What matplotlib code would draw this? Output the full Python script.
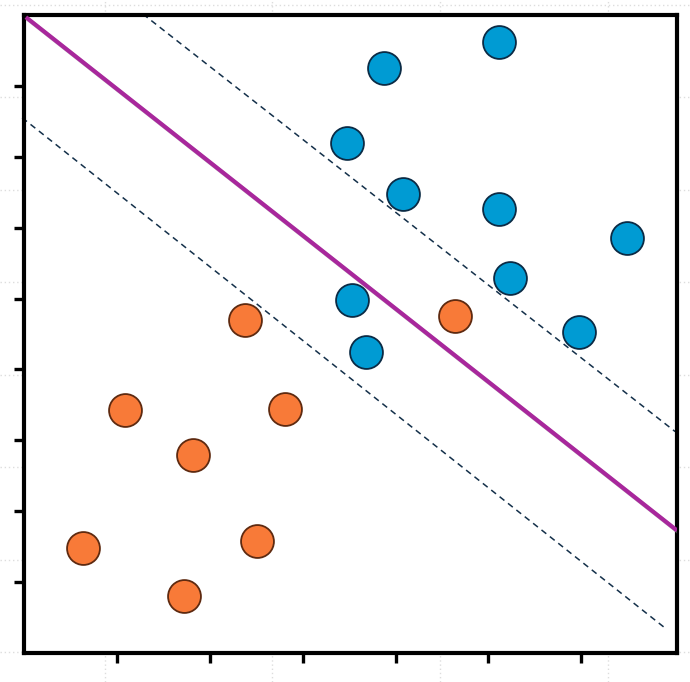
import numpy as np
import matplotlib
matplotlib.use("Agg")
import matplotlib.pyplot as plt
import matplotlib.patheffects as pe
from matplotlib.lines import Line2D

# class A (blue)
blue_x = [5.11, 3.875, 3.48, 4.08, 5.11, 6.49, 5.23, 3.53, 5.98, 3.68]
blue_y = [8.62, 8.25, 7.19, 6.47, 6.26, 5.85, 5.29, 4.98, 4.53, 4.25]

# class B (orange)
orange_x = [2.38, 4.64, 1.09, 2.81, 1.82, 0.635, 2.51, 1.72]
orange_y = [4.70, 4.75, 3.43, 3.44, 2.79, 1.48, 1.58, 0.80]

# separating line and margins: (slope, intercept, x start, x end)
hyperplane = (-1.033, 8.99, 0.02, 7.03)
margin_up = (-1.028, 10.33, 1.28, 7.01)
margin_low = (-1.040, 7.53, -0.02, 6.90)

x_ticks = [1, 2, 3, 4, 5, 6]
y_ticks = [1, 2, 3, 4, 5, 6, 7, 8]

fig = plt.figure(figsize=(6.9, 6.82), dpi=100)

# faint dotted guide lines of the slide behind the plot
for gx in [105, 272, 440, 608]:
    fig.add_artist(Line2D([gx / 690, gx / 690], [0, 1], color="#dddddd",
                          lw=1, ls=(0, (1, 2)), zorder=0))
for gy in [5, 97, 190, 282, 375, 467, 560, 652]:
    fig.add_artist(Line2D([0, 1], [1 - gy / 682, 1 - gy / 682], color="#dddddd",
                          lw=1, ls=(0, (1, 2)), zorder=0))

ax = fig.add_axes([24 / 690, 1 - 653 / 682, 653 / 690, 638 / 682])
ax.set_facecolor("white")
ax.set_zorder(1)

def seg(p):
    m, b, x0, x1 = p
    xs = np.array([x0, x1])
    return xs, m * xs + b

xs, ys = seg(margin_up)
ax.plot(xs, ys, color="#14304a", lw=1.1, ls=(0, (4, 3)), zorder=2, clip_on=False)
xs, ys = seg(margin_low)
ax.plot(xs, ys, color="#14304a", lw=1.1, ls=(0, (4, 3)), zorder=2, clip_on=False)
xs, ys = seg(hyperplane)
ax.plot(xs, ys, color="#a8279c", lw=3.0, zorder=3, solid_capstyle="butt",
        path_effects=[pe.SimpleLineShadow(offset=(1.2, -1.2), shadow_color="#888888", alpha=0.5),
                      pe.Normal()])

ax.scatter(blue_x, blue_y, s=560, c="#009bd3", edgecolors="#0b2b45", linewidths=1.3, zorder=4)
ax.scatter(orange_x, orange_y, s=560, c="#f87a38", edgecolors="#5e2a10", linewidths=1.3, zorder=4)

ax.set_xlim(0, 7.03)
ax.set_ylim(0, 9.0)
ax.set_xticks(x_ticks)
ax.set_yticks(y_ticks)
ax.set_xticklabels([])
ax.set_yticklabels([])
ax.tick_params(direction="out", length=7, width=2.4, color="black")
for s in ax.spines.values():
    s.set_linewidth(3.0)
    s.set_color("black")

fig.savefig("out.png", dpi=100)
